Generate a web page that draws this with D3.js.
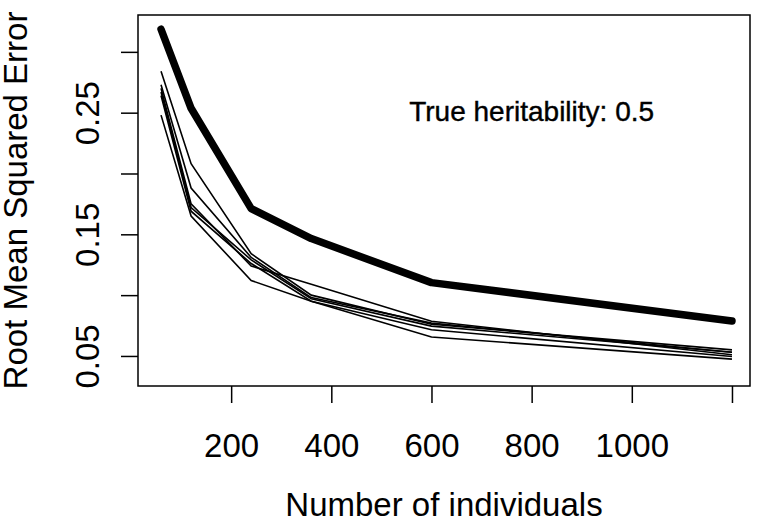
<!DOCTYPE html>
<html>
<head>
	<meta charset="utf-8" />
	<title>RMSE vs number of individuals</title>
	<script src="https://d3js.org/d3.v7.min.js"></script>
	<style>
		body, html {
			margin: 0;
			background: white;
		}
		svg text {
			font-family: "Liberation Sans", Arial, sans-serif;
			fill: black;
		}
	</style>
</head>
<body>
	<svg id="chart" width="764" height="524"></svg>
	<script>
		// sample sizes on the x axis
		var nIndividuals = [60, 120, 240, 360, 600, 1200];

		// thick line
		var meanRmse = [0.3186, 0.2536, 0.1711, 0.1465, 0.1103, 0.0787];

		// thin lines, one per replicate
		var runs = [
			[0.284, 0.208, 0.134, 0.100, 0.076, 0.055],
			[0.273, 0.188, 0.131, 0.098, 0.077, 0.053],
			[0.270, 0.175, 0.124, 0.109, 0.0785, 0.051],
			[0.267, 0.172, 0.129, 0.097, 0.0745, 0.053],
			[0.264, 0.169, 0.126, 0.095, 0.0715, 0.0496],
			[0.248, 0.165, 0.112, 0.095, 0.0656, 0.0474]
		];

		var xTicks = [200, 400, 600, 800, 1000, 1200];
		var xLabels = [200, 400, 600, 800, 1000];
		var yTicks = [0.05, 0.10, 0.15, 0.20, 0.25, 0.30];
		var yLabels = [0.05, 0.15, 0.25];

		var svg = d3.select("#chart");

		var box = { left: 138, right: 750, top: 15, bottom: 386 };

		var x = d3.scaleLinear().domain([14, 1236]).range([box.left, box.right]);
		var y = d3.scaleLinear().domain([0.0253, 0.3303]).range([box.bottom, box.top]);

		// axes
		var xAxis = d3.axisBottom(x)
			.tickValues(xTicks)
			.tickSize(17)
			.tickPadding(0)
			.tickFormat(function (d) { return xLabels.indexOf(d) >= 0 ? d : ""; });

		var gx = svg.append("g")
			.attr("transform", "translate(0," + box.bottom + ")")
			.call(xAxis);
		gx.select(".domain").remove();
		gx.selectAll("line").attr("stroke", "black").attr("stroke-width", 1.5);
		gx.selectAll("text")
			.attr("y", 71)
			.attr("dy", null)
			.style("font-size", "33px");

		var yAxis = d3.axisLeft(y)
			.tickValues(yTicks)
			.tickSize(17)
			.tickFormat(function (d) {
				return yLabels.some(function (v) { return Math.abs(v - d) < 1e-9; }) ? d3.format(".2f")(d) : "";
			});

		var gy = svg.append("g")
			.attr("transform", "translate(" + box.left + ",0)")
			.call(yAxis);
		gy.select(".domain").remove();
		gy.selectAll("line").attr("stroke", "black").attr("stroke-width", 1.5);
		gy.selectAll("text")
			.attr("transform", "rotate(-90)")
			.attr("x", 0)
			.attr("y", -39)
			.attr("dy", null)
			.attr("text-anchor", "middle")
			.style("font-size", "33px");

		// box
		svg.append("rect")
			.attr("x", box.left)
			.attr("y", box.top)
			.attr("width", box.right - box.left)
			.attr("height", box.bottom - box.top)
			.attr("fill", "none")
			.attr("stroke", "black")
			.attr("stroke-width", 1.5);

		// axis titles
		svg.append("text")
			.attr("x", (box.left + box.right) / 2)
			.attr("y", 516)
			.attr("text-anchor", "middle")
			.style("font-size", "33px")
			.text("Number of individuals");

		svg.append("text")
			.attr("transform", "translate(27," + (box.top + box.bottom) / 2 + ") rotate(-90)")
			.attr("text-anchor", "middle")
			.style("font-size", "33px")
			.text("Root Mean Squared Error");

		// lines
		var line = d3.line()
			.x(function (d, i) { return x(nIndividuals[i]); })
			.y(function (d) { return y(d); });

		svg.append("g")
			.selectAll("path")
			.data(runs)
			.enter()
			.append("path")
			.attr("d", line)
			.attr("fill", "none")
			.attr("stroke", "black")
			.attr("stroke-width", 1.6);

		svg.append("path")
			.attr("d", line(meanRmse))
			.attr("fill", "none")
			.attr("stroke", "black")
			.attr("stroke-width", 7.5)
			.attr("stroke-linecap", "round")
			.attr("stroke-linejoin", "round");

		// annotation
		svg.append("text")
			.attr("x", x(800))
			.attr("y", y(0.25))
			.attr("dy", "0.3em")
			.attr("text-anchor", "middle")
			.style("font-size", "28px")
			.style("stroke", "black")
			.style("stroke-width", 0.4)
			.text("True heritability: 0.5");
	</script>
</body>
</html>
